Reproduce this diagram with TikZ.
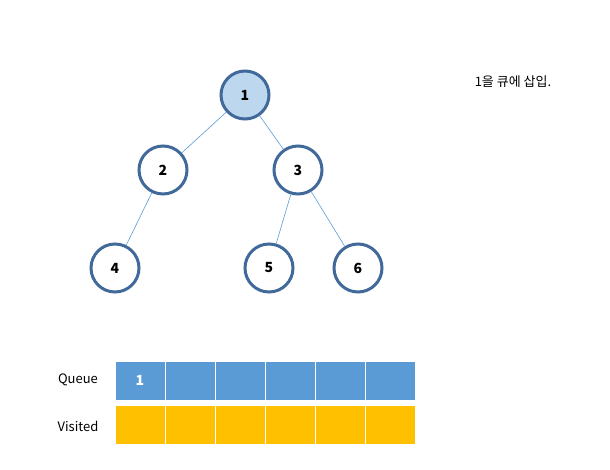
\documentclass[tikz,border=0pt]{standalone}
\usepackage{fontspec}
\setmainfont{Noto Sans CJK KR}
\begin{document}
\begin{tikzpicture}[x=1pt,y=-1pt,
  vert/.style={circle,draw=vborder,line width=3pt,fill=white,minimum size=48pt,inner sep=0pt,font=\bfseries\fontsize{14}{16}\selectfont},
  edge/.style={draw=ecol,line width=0.6pt},
  qcell/.style={draw=white,line width=1pt,fill=qcol,minimum width=50pt,minimum height=39pt,inner sep=0pt,text=white,font=\bfseries\fontsize{14}{16}\selectfont},
  vcell/.style={draw=white,line width=1pt,fill=vcol,minimum width=50pt,minimum height=39pt,inner sep=0pt},
  lbl/.style={font=\fontsize{13}{15}\selectfont}]
\definecolor{vborder}{HTML}{41699A}
\definecolor{ecol}{HTML}{5B9BD5}
\definecolor{qcol}{HTML}{5B9BD5}
\definecolor{vcol}{HTML}{FFC000}
\definecolor{lblue}{HTML}{BDD7EE}
\useasboundingbox (0,0) rectangle (610,470);
\node[vert,fill=lblue] (n1) at (245,95) {1};
\node[vert] (n2) at (163,170) {2};
\node[vert] (n3) at (298,170) {3};
\node[vert] (n4) at (115,268) {4};
\node[vert] (n5) at (269,268) {5};
\node[vert] (n6) at (358,268) {6};
\path[edge] (n1) -- (n2);
\path[edge] (n1) -- (n3);
\path[edge] (n2) -- (n4);
\path[edge] (n3) -- (n5);
\path[edge] (n3) -- (n6);
\node[lbl] (msg) at (513,82) {1을 큐에 삽입.};
\foreach \i in {0,...,5}{
  \node[qcell] (q\i) at (140+\i*50,380.5) {};
  \node[vcell] (v\i) at (140+\i*50,425) {};
}
\node[text=white,font=\bfseries\fontsize{14}{16}\selectfont] at (q0) {1};
\node[lbl] (ql) at (78,380) {Queue};
\node[lbl] (vl) at (78,426) {Visited};
\end{tikzpicture}
\end{document}
